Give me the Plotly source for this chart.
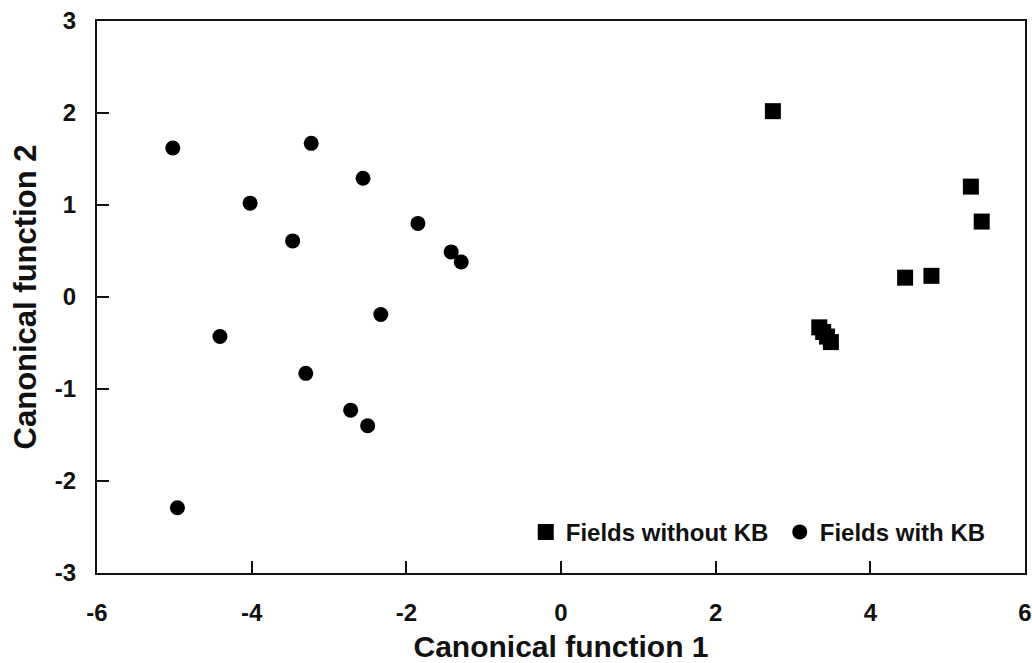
import plotly.graph_objects as go

# Fields without KB (squares)
without_x = [2.74, 5.30, 5.44, 4.79, 4.45, 3.34, 3.39, 3.44, 3.49]
without_y = [2.02, 1.20, 0.82, 0.23, 0.21, -0.33, -0.38, -0.43, -0.49]

# Fields with KB (circles)
with_x = [-5.02, -3.23, -2.56, -4.02, -3.47, -1.85, -1.42, -1.29, -2.33, -4.41, -3.30, -2.72, -2.50, -4.96]
with_y = [1.62, 1.67, 1.29, 1.02, 0.61, 0.80, 0.49, 0.38, -0.19, -0.43, -0.83, -1.23, -1.40, -2.29]

x_ticks = [-6, -4, -2, 0, 2, 4, 6]
y_ticks = [-3, -2, -1, 0, 1, 2, 3]

FONT = "Liberation Sans, Arial, sans-serif"
INK = "#111"

fig = go.Figure()
fig.add_trace(go.Scatter(
    x=without_x, y=without_y, mode="markers", name="Fields without KB",
    marker=dict(symbol="square", size=16, color="black"),
    legendwidth=209,
))
fig.add_trace(go.Scatter(
    x=with_x, y=with_y, mode="markers", name="Fields with KB",
    marker=dict(symbol="circle", size=15, color="black"),
))

axis_common = dict(
    showgrid=False, zeroline=False, showline=True, linecolor=INK,
    linewidth=2, mirror=True, ticks="inside", ticklen=12, tickwidth=2,
    tickcolor=INK, automargin=False,
    tickfont=dict(family=FONT, size=24, color=INK, weight="bold"),
)

fig.update_xaxes(
    range=[-6, 6.0], tickvals=x_ticks, ticktext=[str(v) for v in x_ticks],
    title=dict(text="Canonical function 1", standoff=14,
               font=dict(family=FONT, size=30, color=INK, weight="bold")),
    ticklabelstandoff=17,
    **axis_common,
)
fig.update_yaxes(
    range=[-3, 3], tickvals=y_ticks, ticktext=[str(v) for v in y_ticks],
    title=dict(text="Canonical function 2", standoff=9,
               font=dict(family=FONT, size=31, color=INK, weight="bold")),
    ticklabelstandoff=14,
    **axis_common,
)

fig.update_layout(
    width=1032, height=663,
    margin=dict(l=97, r=7, t=21, b=90),
    paper_bgcolor="white", plot_bgcolor="white",
    showlegend=True,
    legend=dict(
        orientation="h", x=0.462, y=0.0737, xanchor="left", yanchor="middle",
        bgcolor="rgba(0,0,0,0)", font=dict(family=FONT, size=24, color=INK, weight="bold"),
        itemsizing="trace",
    ),
)

fig.write_html(
    "out.html",
    config={"displayModeBar": False},
    post_script="document.body.style.margin='0';document.body.style.overflow='hidden';",
)
